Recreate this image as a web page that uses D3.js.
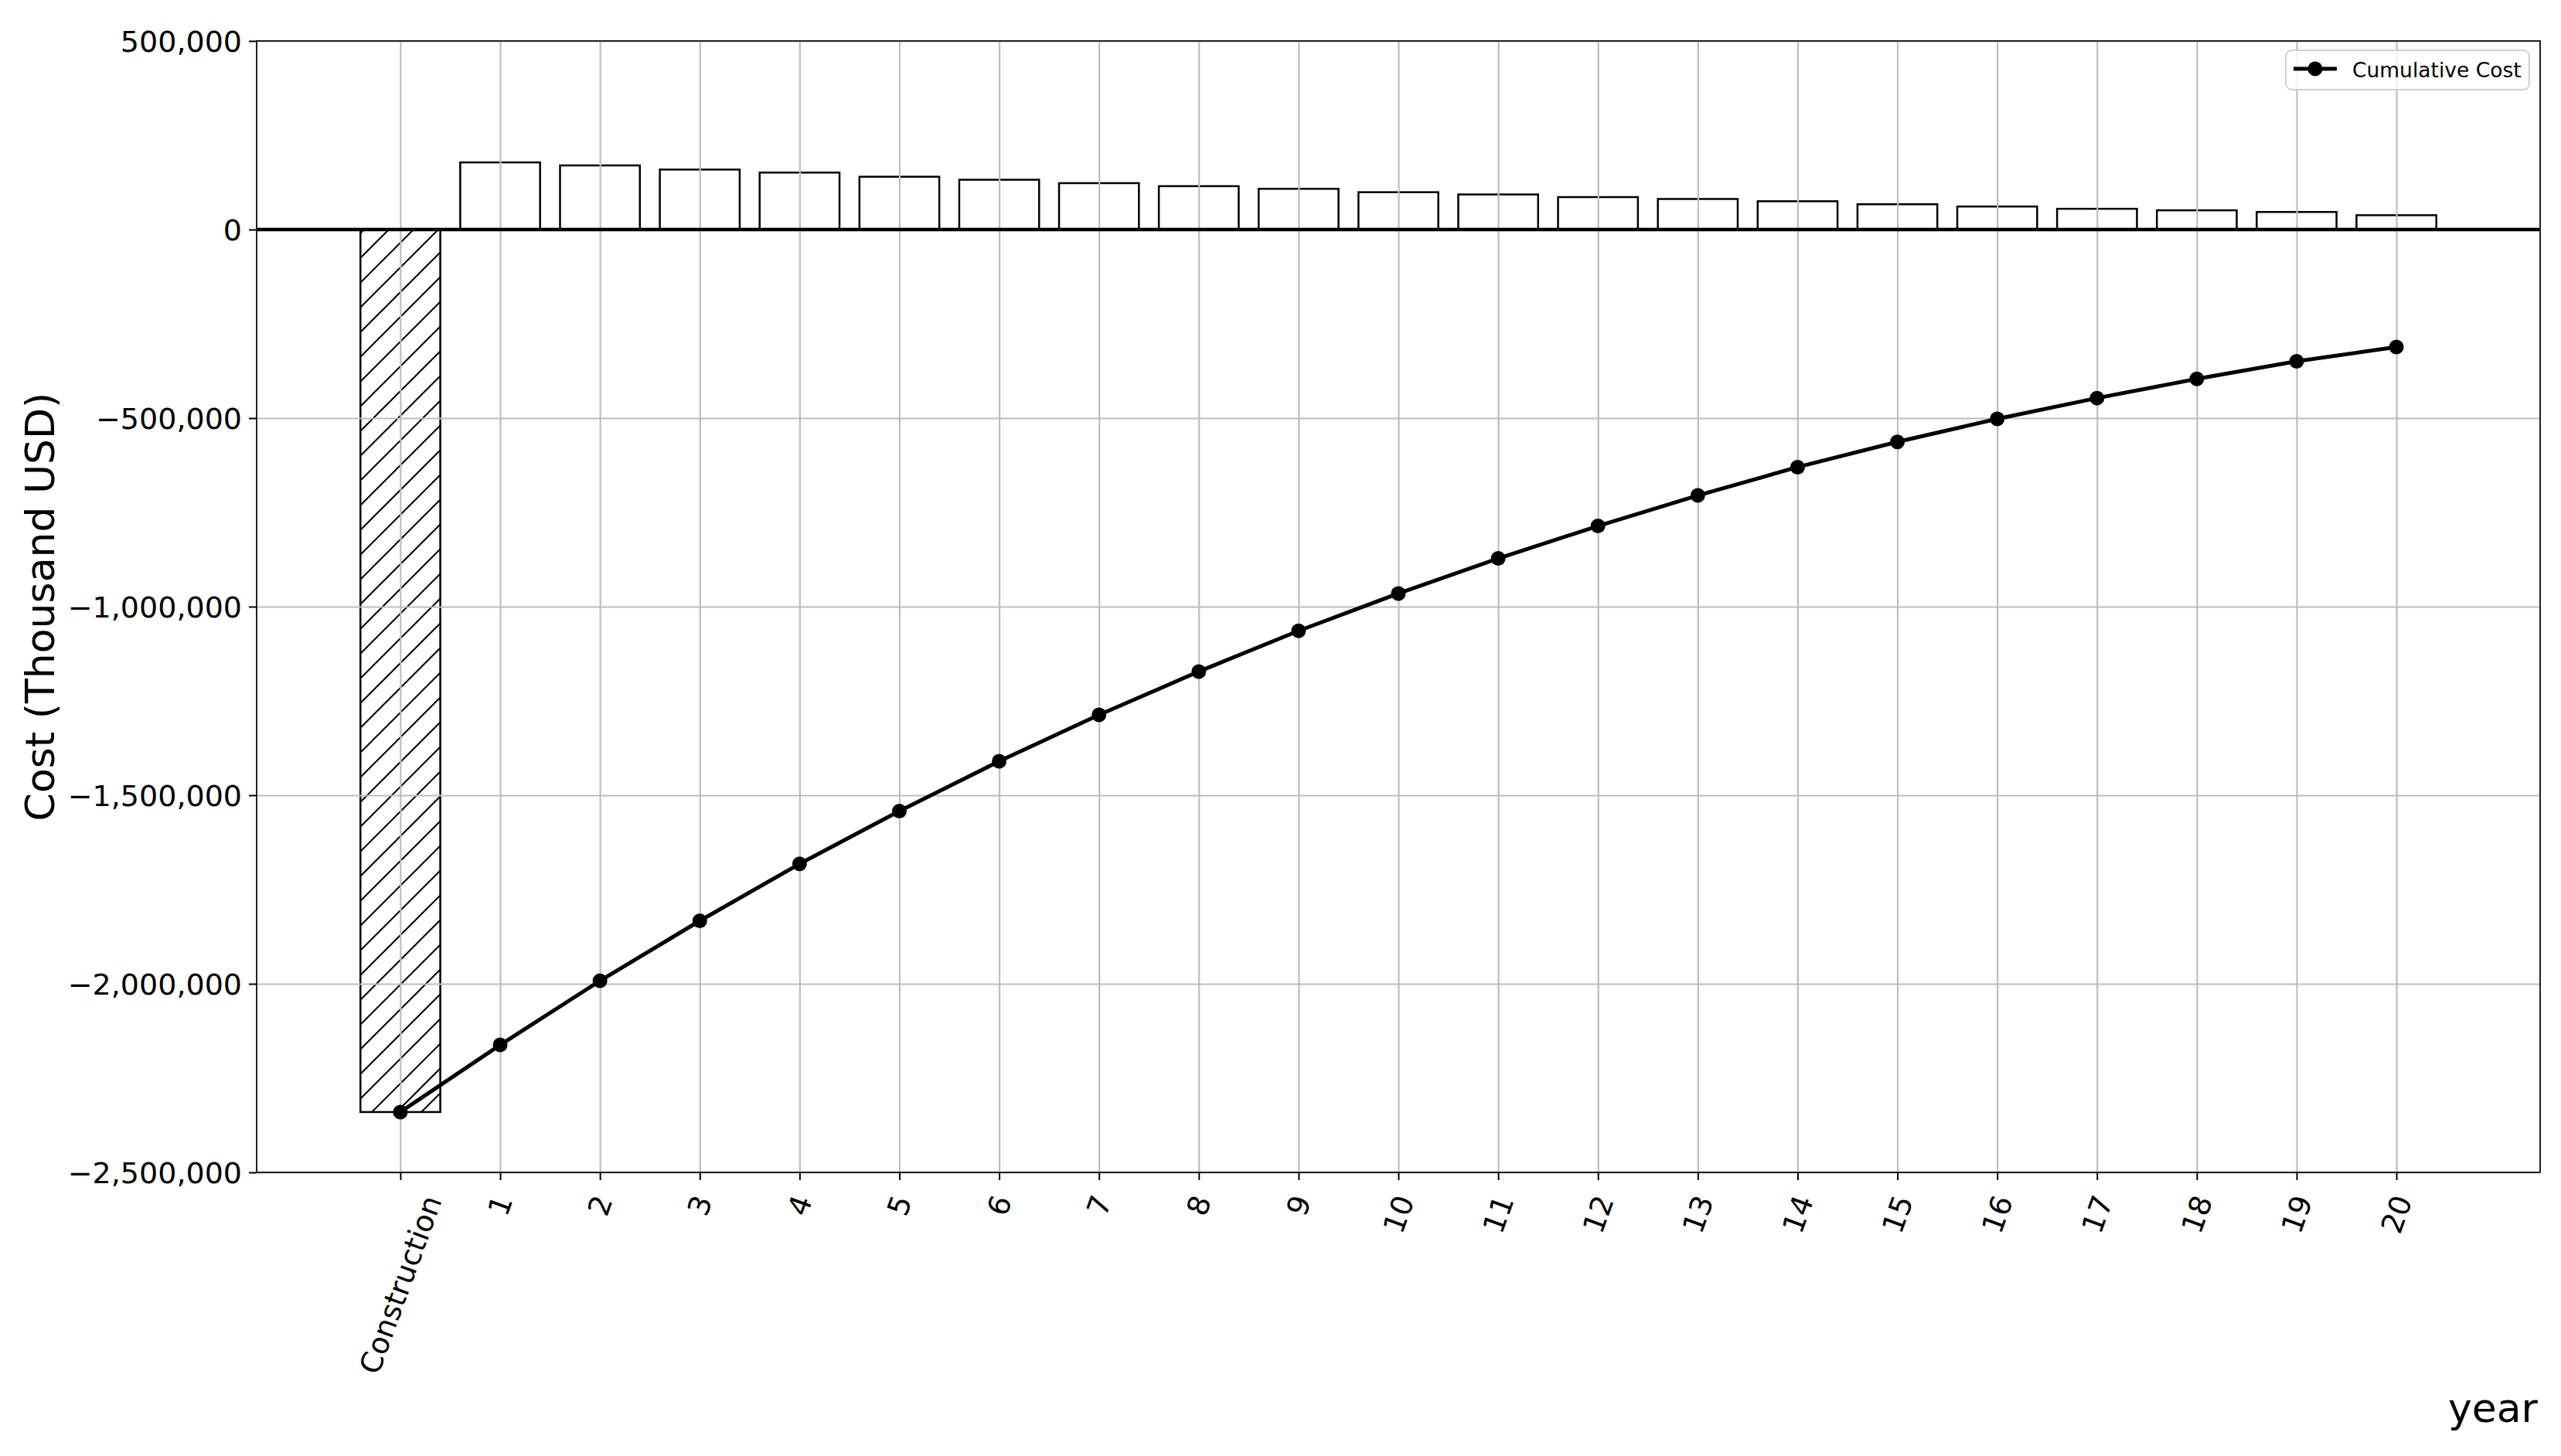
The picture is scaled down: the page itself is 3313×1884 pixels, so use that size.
<!DOCTYPE html>
<html>
<head>
<meta charset="utf-8">
<script src="https://cdn.jsdelivr.net/npm/d3@7.9.0/dist/d3.min.js"></script>
<style>
  body { margin: 0; background: #fff; }
  svg { display: block; font-family: "DejaVu Sans", sans-serif; }
</style>
</head>
<body>
<div id="chart"></div>
<script>
// categories on the x axis
const categories = ['Construction', '1', '2', '3', '4', '5', '6', '7', '8', '9', '10',
  '11', '12', '13', '14', '15', '16', '17', '18', '19', '20'];
// yearly cost / saving (thousand USD), first entry is construction
const annualCost = [-2340000, 178000, 170000, 159000, 151000, 140000, 132000, 123000, 115000,
  108000, 99000, 93000, 86000, 81000, 75000, 67000, 61000, 55000, 51000, 46500, 38000];
const yTicks = [500000, 0, -500000, -1000000, -1500000, -2000000, -2500000];
const legendLabel = 'Cumulative Cost';

const cumulative = Array.from(d3.cumsum(annualCost));
const rows = categories.map((c, i) => ({ i, label: c, value: annualCost[i], cum: cumulative[i] }));

const width = 3313, height = 1884;
const margin = { top: 53, right: 27, bottom: 367, left: 332 };
const plot = {
  left: margin.left, right: width - margin.right,
  top: margin.top, bottom: height - margin.bottom,
};
plot.width = plot.right - plot.left;
plot.height = plot.bottom - plot.top;

const svg = d3.select('#chart').append('svg')
  .attr('width', width).attr('height', height)
  .attr('viewBox', `0 0 ${width} ${height}`);

const xScale = d3.scaleLinear().domain([-1.44, 21.44]).range([plot.left, plot.right]);
const yScale = d3.scaleLinear().domain([-2500000, 500000]).range([plot.bottom, plot.top]);
const barW = xScale(0.8) - xScale(0);

// hatch for the construction bar
const defs = svg.append('defs');
const hatch = defs.append('pattern')
  .attr('id', 'hatch').attr('patternUnits', 'userSpaceOnUse')
  .attr('width', 32).attr('height', 32);
hatch.append('rect').attr('width', 32).attr('height', 32).attr('fill', '#fff');
hatch.append('path')
  .attr('d', 'M-8,8 L8,-8 M0,32 L32,0 M24,40 L40,24')
  .attr('stroke', '#000').attr('stroke-width', 2);

// bars
svg.append('g').attr('class', 'bars')
  .selectAll('rect')
  .data(rows)
  .join('rect')
  .attr('x', d => xScale(d.i) - barW / 2)
  .attr('width', barW)
  .attr('y', d => yScale(Math.max(0, d.value)))
  .attr('height', d => Math.abs(yScale(d.value) - yScale(0)))
  .attr('fill', d => d.i === 0 ? 'url(#hatch)' : '#fff')
  .attr('stroke', '#000')
  .attr('stroke-width', 2.5);

// gridlines
svg.append('g').attr('class', 'gridlines')
  .attr('transform', `translate(0, ${plot.bottom})`)
  .call(d3.axisBottom(xScale).tickValues(d3.range(categories.length)).tickFormat('').tickSize(-plot.height))
  .call(g => g.select('.domain').remove())
  .call(g => g.selectAll('line').attr('stroke', '#bdbdbd').attr('stroke-width', 2.2));
svg.append('g').attr('class', 'gridlines')
  .attr('transform', `translate(${plot.left}, 0)`)
  .call(d3.axisLeft(yScale).tickValues(yTicks).tickFormat('').tickSize(-plot.width))
  .call(g => g.select('.domain').remove())
  .call(g => g.selectAll('line').attr('stroke', '#bdbdbd').attr('stroke-width', 2.2));

// zero line
svg.append('line')
  .attr('x1', plot.left).attr('x2', plot.right)
  .attr('y1', yScale(0)).attr('y2', yScale(0))
  .attr('stroke', '#000').attr('stroke-width', 4.5);

// cumulative line
const line = d3.line().x(d => xScale(d.i)).y(d => yScale(d.cum));
svg.append('path')
  .datum(rows)
  .attr('d', line)
  .attr('fill', 'none')
  .attr('stroke', '#000')
  .attr('stroke-width', 5)
  .attr('stroke-linejoin', 'round');
svg.append('g').attr('class', 'dots')
  .selectAll('circle')
  .data(rows)
  .join('circle')
  .attr('cx', d => xScale(d.i))
  .attr('cy', d => yScale(d.cum))
  .attr('r', 9.5)
  .attr('fill', '#000');

// frame
svg.append('rect')
  .attr('x', plot.left).attr('y', plot.top)
  .attr('width', plot.width).attr('height', plot.height)
  .attr('fill', 'none').attr('stroke', '#222').attr('stroke-width', 2);

// y axis
svg.append('g').attr('class', 'y-axis')
  .attr('transform', `translate(${plot.left}, 0)`)
  .call(d3.axisLeft(yScale).tickValues(yTicks).tickFormat(d3.format(',')).tickSize(10).tickPadding(9))
  .call(g => g.select('.domain').remove())
  .call(g => g.selectAll('line').attr('stroke', '#000').attr('stroke-width', 2))
  .call(g => g.selectAll('text')
    .attr('fill', '#000').attr('font-size', 38)
    .attr('font-family', '"DejaVu Sans", sans-serif')
    .attr('dy', null).attr('dominant-baseline', 'central'));

// x axis with rotated labels
const labelTop = plot.bottom + 24;
const textH = 38 * 1.17;
const cos70 = Math.cos(70 * Math.PI / 180);
svg.append('g').attr('class', 'x-axis')
  .attr('transform', `translate(0, ${plot.bottom})`)
  .call(d3.axisBottom(xScale).tickValues(d3.range(categories.length)).tickFormat(i => categories[i]).tickSize(10))
  .call(g => g.select('.domain').remove())
  .call(g => g.selectAll('line').attr('stroke', '#000').attr('stroke-width', 2))
  .call(g => g.selectAll('text')
    .attr('fill', '#000').attr('font-size', 38)
    .attr('font-family', '"DejaVu Sans", sans-serif')
    .attr('text-anchor', 'end')
    .attr('dominant-baseline', 'central')
    .attr('dy', null).attr('y', 0).attr('x', 0)
    .attr('transform', function () {
      const L = this.getComputedTextLength();
      const dx = (L * cos70) / 2;
      const dy = (labelTop - plot.bottom) + (textH / 2) * cos70;
      return `translate(${dx}, ${dy}) rotate(-70)`;
    }));

// axis titles
svg.append('text')
  .attr('transform', `translate(52, ${(plot.top + plot.bottom) / 2}) rotate(-90)`)
  .attr('text-anchor', 'middle')
  .attr('dominant-baseline', 'central')
  .attr('font-size', 52)
  .text('Cost (Thousand USD)');
svg.append('text')
  .attr('x', plot.right - 3).attr('y', 1840)
  .attr('text-anchor', 'end')
  .attr('font-size', 52)
  .text('year');

// legend
const legend = svg.append('g').attr('class', 'legend');
legend.append('rect')
  .attr('x', 2957).attr('y', 65).attr('width', 315).attr('height', 51)
  .attr('rx', 8).attr('fill', '#fff').attr('fill-opacity', 0.8)
  .attr('stroke', '#d0d0d0').attr('stroke-width', 2);
legend.append('line')
  .attr('x1', 2967).attr('x2', 3023).attr('y1', 89).attr('y2', 89)
  .attr('stroke', '#000').attr('stroke-width', 5);
legend.append('circle').attr('cx', 2995).attr('cy', 89).attr('r', 9.5).attr('fill', '#000');
legend.append('text')
  .attr('x', 3043).attr('y', 90)
  .attr('dominant-baseline', 'central')
  .attr('font-size', 26.5)
  .text(legendLabel);
</script>
</body>
</html>
